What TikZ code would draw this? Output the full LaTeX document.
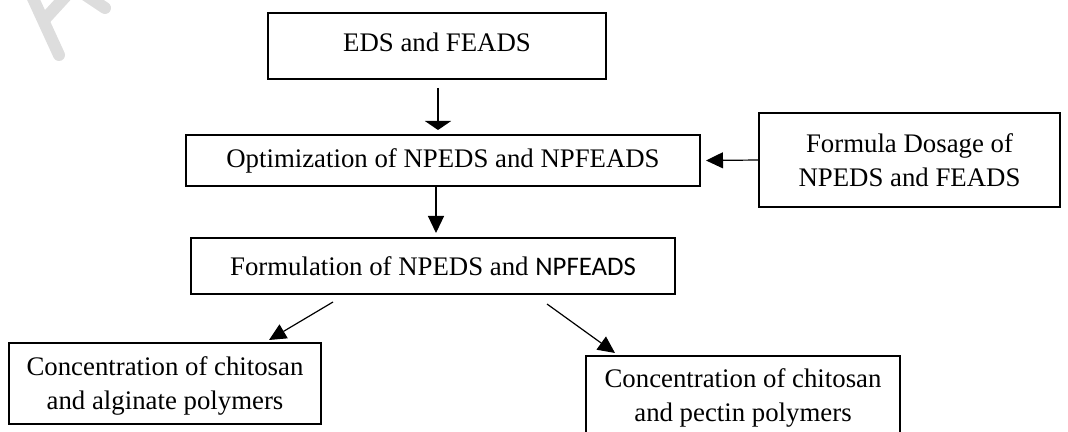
\documentclass[tikz,border=0pt]{standalone}
\usepackage{fontspec}
\setmainfont{Liberation Serif}
\newfontfamily\calibri{Carlito}
\usetikzlibrary{arrows.meta,calc}
\definecolor{wmgray}{HTML}{DDDDDD}
\begin{document}
\begin{tikzpicture}[x=0.5pt,y=-0.5pt,
  box/.style={draw, line width=1.3pt, inner sep=0pt, outer sep=0pt, align=center,
    font=\fontsize{13.4pt}{17pt}\selectfont},
  conn/.style={line width=0.6pt, -{Triangle[length=8.5pt,width=8pt]}},
  flatconn/.style={line width=0.9pt, -{Triangle[length=4.5pt,width=13pt]}},
  wm/.style={line width=6pt, draw=wmgray, line cap=round},
]
\useasboundingbox (0,0) rectangle (1068,432);
% watermark fragment
\draw[wm] (31,-6) -- (59,55);
\draw[wm] (44,20) -- (66,-4);
\draw[wm] (84,-6) -- (105,8);
% boxes
\node[box, minimum width=169pt, minimum height=33pt, text depth=4pt] (b1) at (437,46) {EDS and FEADS};
\node[box, minimum width=257pt, minimum height=25.5pt] (b2) at (443,160.5) {Optimization of NPEDS and NPFEADS};
\node[box, minimum width=150.5pt, minimum height=47pt] (b3) at (909.5,160) {Formula Dosage of\\NPEDS and FEADS};
\node[box, minimum width=242pt, minimum height=28pt] (b4) at (433,266) {Formulation of NPEDS and {\calibri NPFEADS}};
\node[box, minimum width=156pt, minimum height=40.5pt] (b5) at (165,383.5) {\rule{0pt}{12pt}Concentration of chitosan\\and alginate polymers};
\node[box, minimum width=157pt, minimum height=42pt] (b6) at (743,398) {Concentration of chitosan\\and pectin polymers};
% connectors
\draw[flatconn] ($(b1.south)+(1,9)$) -- ($(b2.north)+(-5,-5)$);
\draw[conn] ($(b2.south)+(-7,0)$) -- ($(b4.north)+(3,-5)$);
\draw[conn] (b3.west) -- ($(b2.east)+(6,0)$);
\draw[conn] ($(b4.south west)+(142,8)$) -- ($(b5.north east)+(-52,-3)$);
\draw[conn] ($(b4.south east)+(-128,10)$) -- ($(b6.north west)+(29,-3)$);
\end{tikzpicture}
\end{document}
